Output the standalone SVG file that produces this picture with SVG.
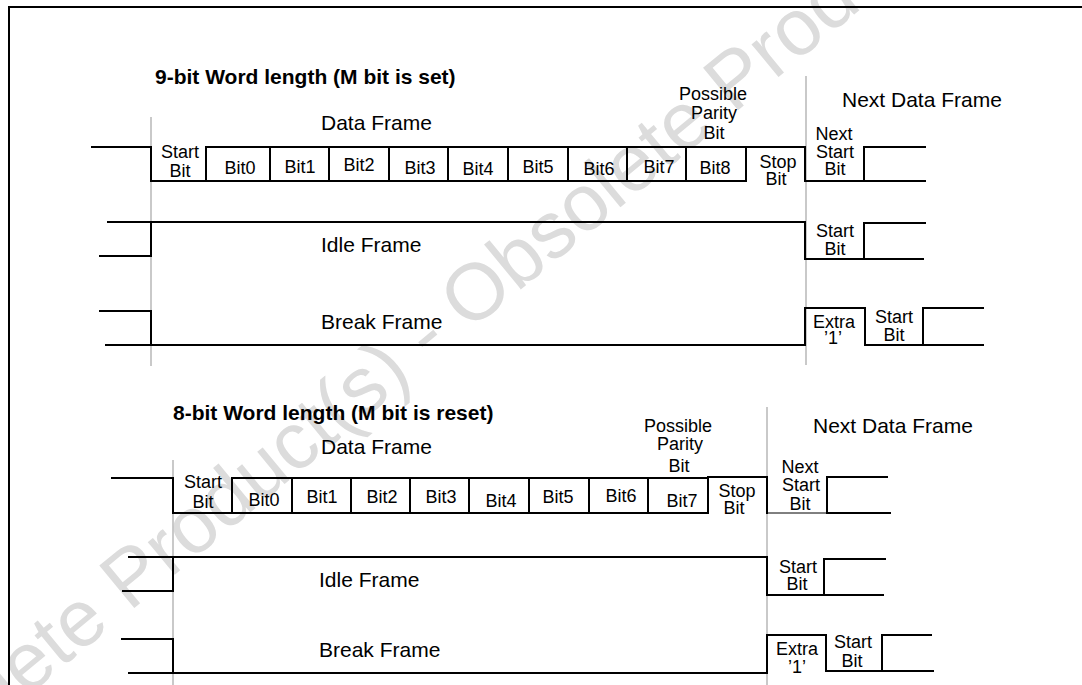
<svg xmlns="http://www.w3.org/2000/svg" width="1082" height="685" viewBox="0 0 1082 685">
<style>
.wm{font-family:"Liberation Sans",Arial,sans-serif;font-size:80px;fill:#dcdcdc}
.sig{fill:none;stroke:#000;stroke-width:2;stroke-linejoin:miter;stroke-linecap:square}
.thin{fill:none;stroke:#000;stroke-width:1}
.guide{fill:none;stroke:#b8b8b8;stroke-width:1.5}
.lbl{font-family:"Liberation Sans",Arial,sans-serif;font-size:18px;fill:#000;text-anchor:middle}
.big{font-family:"Liberation Sans",Arial,sans-serif;font-size:21px;fill:#000}
.ttl{font-family:"Liberation Sans",Arial,sans-serif;font-size:21px;font-weight:bold;fill:#000}
</style>
<rect width="1082" height="685" fill="#fff"/>
<g id="watermark">
<text class="wm" transform="translate(-135,830) rotate(-39.5)">Obsolete Product(s) - Obsolete Product(s)</text>
</g>
<path id="frame" d="M9,685 V7 H1082" fill="none" stroke="#000" stroke-width="2"/>
<g id="guides">
<path class="guide" d="M151,117 V366 M806,76 V365 M173,460 V685 M767,407 V685"/>
</g>
<g id="nine-bit">
<text class="ttl" x="155" y="84">9-bit Word length (M bit is set)</text>
<g id="nine-data">
<path class="sig" d="M92,147 H151 V181 H746 V147 H805 V181 H925"/>
<path class="sig" d="M206,147 H746 M206,147 V181 M270,147 V181 M329,147 V181 M389,147 V181 M448,147 V181 M508,147 V181 M568,147 V181 M627,147 V181 M686,147 V181"/>
<path class="sig" d="M864,181 V147 H925"/>
<text class="big" x="321" y="130">Data Frame</text>
<text class="lbl" x="713" y="100">Possible</text>
<text class="lbl" x="714" y="119">Parity</text>
<text class="lbl" x="714" y="139">Bit</text>
<text class="big" x="842" y="107">Next Data Frame</text>
<text class="lbl" x="180" y="158">Start</text>
<text class="lbl" x="180" y="177">Bit</text>
<text class="lbl" x="240" y="174">Bit0</text>
<text class="lbl" x="300" y="173">Bit1</text>
<text class="lbl" x="359" y="171">Bit2</text>
<text class="lbl" x="420" y="174">Bit3</text>
<text class="lbl" x="478" y="175">Bit4</text>
<text class="lbl" x="538" y="173">Bit5</text>
<text class="lbl" x="599" y="175">Bit6</text>
<text class="lbl" x="659" y="173">Bit7</text>
<text class="lbl" x="715" y="174">Bit8</text>
<text class="lbl" x="778" y="168">Stop</text>
<text class="lbl" x="776" y="185">Bit</text>
<text class="lbl" x="834" y="140">Next</text>
<text class="lbl" x="835" y="158">Start</text>
<text class="lbl" x="835" y="175">Bit</text>
</g>
<g id="nine-idle">
<path class="sig" d="M108,222 H805 V259 H923"/>
<path class="sig" d="M100,256 H151 V222"/>
<path class="sig" d="M864,259 V223 H925"/>
<text class="big" x="321" y="252">Idle Frame</text>
<text class="lbl" x="835" y="237">Start</text>
<text class="lbl" x="835" y="255">Bit</text>
</g>
<g id="nine-break">
<path class="sig" d="M100,311 H151 V345"/>
<path class="sig" d="M106,345 H805 V308 H865 V345 H983"/>
<path class="sig" d="M923,345 V308 H983"/>
<text class="big" x="321" y="329">Break Frame</text>
<text class="lbl" x="834" y="328">Extra</text>
<text class="lbl" x="833" y="344">’1’</text>
<text class="lbl" x="894" y="323">Start</text>
<text class="lbl" x="894" y="341">Bit</text>
</g>
</g>
<g id="eight-bit">
<text class="ttl" x="173" y="420">8-bit Word length (M bit is reset)</text>
<g id="eight-data">
<path class="sig" d="M112,478 H173 V513 H708 V477 H767 V513"/>
<path class="sig" d="M232,478 H708 M232,478 V513 M292,478 V513 M351,478 V513 M410,478 V513 M469,478 V513 M529,478 V513 M589,478 V513 M648,478 V513"/>
<path class="thin" d="M767,513 H827"/>
<path class="sig" d="M827,513 V477 H887 M827,513 H890"/>
<text class="big" x="321" y="454">Data Frame</text>
<text class="lbl" x="678" y="432">Possible</text>
<text class="lbl" x="680" y="450">Parity</text>
<text class="lbl" x="679" y="472">Bit</text>
<text class="big" x="813" y="433">Next Data Frame</text>
<text class="lbl" x="203" y="488">Start</text>
<text class="lbl" x="203" y="508">Bit</text>
<text class="lbl" x="264" y="506">Bit0</text>
<text class="lbl" x="322" y="503">Bit1</text>
<text class="lbl" x="382" y="503">Bit2</text>
<text class="lbl" x="441" y="503">Bit3</text>
<text class="lbl" x="501" y="507">Bit4</text>
<text class="lbl" x="558" y="503">Bit5</text>
<text class="lbl" x="621" y="502">Bit6</text>
<text class="lbl" x="682" y="507">Bit7</text>
<text class="lbl" x="737" y="497">Stop</text>
<text class="lbl" x="734" y="514">Bit</text>
<text class="lbl" x="800" y="473">Next</text>
<text class="lbl" x="801" y="491">Start</text>
<text class="lbl" x="800" y="510">Bit</text>
</g>
<g id="eight-idle">
<path class="sig" d="M129,557 H767 V595 H883"/>
<path class="sig" d="M123,591 H173 V557"/>
<path class="sig" d="M824,595 V559 H885"/>
<text class="big" x="319" y="587">Idle Frame</text>
<text class="lbl" x="798" y="573">Start</text>
<text class="lbl" x="797" y="590">Bit</text>
</g>
<g id="eight-break">
<path class="sig" d="M122,639 H173 V673"/>
<path class="sig" d="M129,673 H767 V635 H826 V671 H933"/>
<path class="sig" d="M882,671 V635 H931"/>
<text class="big" x="319" y="657">Break Frame</text>
<text class="lbl" x="797" y="655">Extra</text>
<text class="lbl" x="797" y="673">’1’</text>
<text class="lbl" x="853" y="648">Start</text>
<text class="lbl" x="852" y="667">Bit</text>
</g>
</g>
</svg>
